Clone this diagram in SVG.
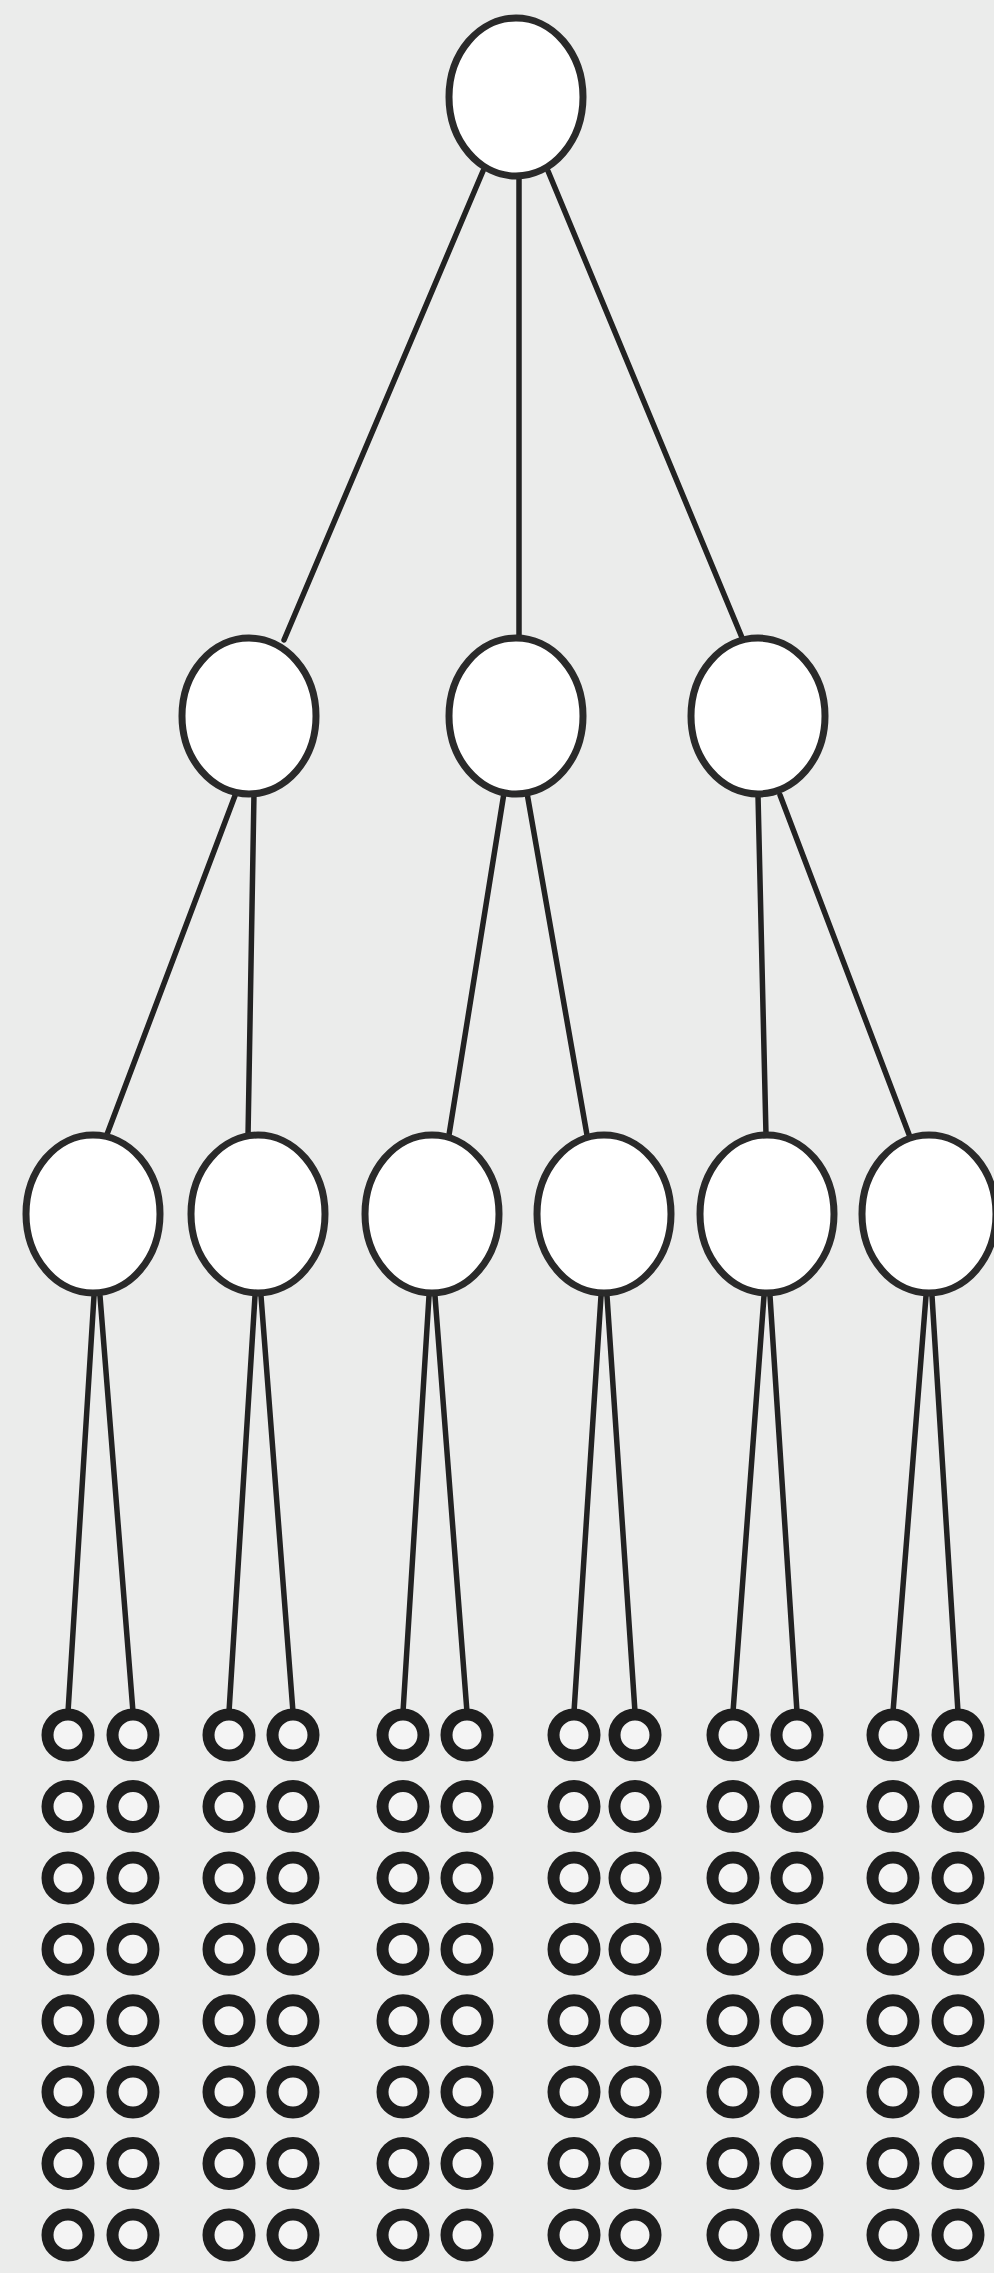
<svg xmlns="http://www.w3.org/2000/svg" width="994" height="2273" viewBox="0 0 994 2273">
<style>
.bg{fill:#ebeceb}
.n{fill:#ffffff;stroke:#2a2a2a;stroke-width:7}
.leaf{fill:#f4f4f4;stroke:#1e1e1e;stroke-width:12}
.e{stroke:#222;stroke-width:5.5;fill:none;stroke-linecap:round}
</style>
<defs>
<g id="col">
<circle class="leaf" cx="0" cy="1735" r="20.5"/>
<circle class="leaf" cx="0" cy="1806.4" r="20.5"/>
<circle class="leaf" cx="0" cy="1877.9" r="20.5"/>
<circle class="leaf" cx="0" cy="1949.3" r="20.5"/>
<circle class="leaf" cx="0" cy="2020.7" r="20.5"/>
<circle class="leaf" cx="0" cy="2092.1" r="20.5"/>
<circle class="leaf" cx="0" cy="2163.6" r="20.5"/>
<circle class="leaf" cx="0" cy="2235" r="20.5"/>
</g>
</defs>
<rect class="bg" x="0" y="0" width="994" height="2273"/>
<g id="connectors">
<line class="e" x1="483" y1="171" x2="284" y2="640"/>
<line class="e" x1="519" y1="177" x2="519" y2="640"/>
<line class="e" x1="548" y1="171" x2="743" y2="640"/>
<line class="e" x1="236" y1="793" x2="106" y2="1137"/>
<line class="e" x1="254" y1="793" x2="248" y2="1137"/>
<line class="e" x1="504" y1="793" x2="449" y2="1135"/>
<line class="e" x1="527" y1="793" x2="587" y2="1135"/>
<line class="e" x1="758" y1="795" x2="766" y2="1135"/>
<line class="e" x1="780" y1="795" x2="910" y2="1137"/>
<line class="e" x1="94" y1="1296" x2="68" y2="1712"/>
<line class="e" x1="100" y1="1296" x2="133" y2="1712"/>
<line class="e" x1="255" y1="1296" x2="229" y2="1712"/>
<line class="e" x1="261" y1="1296" x2="293" y2="1712"/>
<line class="e" x1="429" y1="1296" x2="403" y2="1712"/>
<line class="e" x1="435" y1="1296" x2="467" y2="1712"/>
<line class="e" x1="601" y1="1296" x2="574" y2="1712"/>
<line class="e" x1="607" y1="1296" x2="635" y2="1712"/>
<line class="e" x1="764" y1="1296" x2="733" y2="1712"/>
<line class="e" x1="770" y1="1296" x2="797" y2="1712"/>
<line class="e" x1="926" y1="1296" x2="893" y2="1712"/>
<line class="e" x1="932" y1="1296" x2="958" y2="1712"/>
</g>
<g id="root"><ellipse class="n" cx="516" cy="97" rx="67" ry="79"/></g>
<g id="n1"><ellipse class="n" cx="249" cy="716" rx="67" ry="78"/></g>
<g id="n2"><ellipse class="n" cx="516" cy="716" rx="67" ry="78"/></g>
<g id="n3"><ellipse class="n" cx="758" cy="716" rx="67" ry="78"/></g>
<g id="n11"><ellipse class="n" cx="93" cy="1214" rx="67" ry="79"/></g>
<g id="n12"><ellipse class="n" cx="258" cy="1214" rx="67" ry="79"/></g>
<g id="n21"><ellipse class="n" cx="432" cy="1214" rx="67" ry="79"/></g>
<g id="n22"><ellipse class="n" cx="604" cy="1214" rx="67" ry="79"/></g>
<g id="n31"><ellipse class="n" cx="767" cy="1214" rx="67" ry="79"/></g>
<g id="n32"><ellipse class="n" cx="929" cy="1214" rx="67" ry="79"/></g>
<g id="leaves">
<use href="#col" x="68"/><use href="#col" x="133"/>
<use href="#col" x="229"/><use href="#col" x="293"/>
<use href="#col" x="403"/><use href="#col" x="467"/>
<use href="#col" x="574"/><use href="#col" x="635"/>
<use href="#col" x="733"/><use href="#col" x="797"/>
<use href="#col" x="893"/><use href="#col" x="958"/>
</g>
</svg>
